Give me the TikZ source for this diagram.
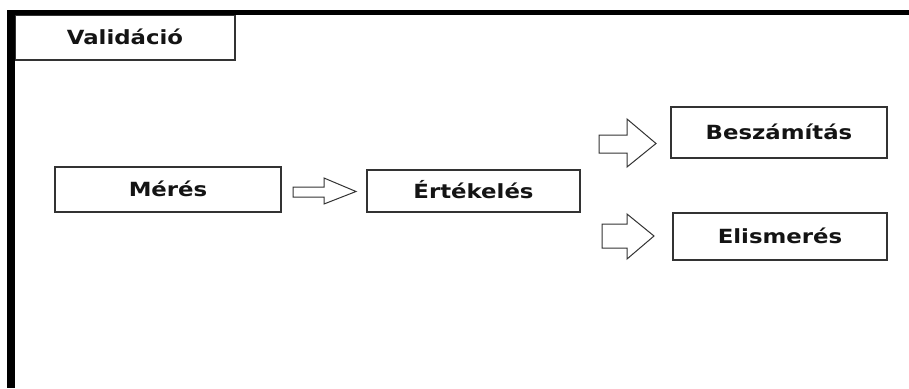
\documentclass[tikz,border=0pt]{standalone}
\usepackage{fontspec}
\newfontfamily\boxfont[FakeStretch=1.17]{DejaVu Sans Bold}
\definecolor{boxline}{HTML}{333333}
\definecolor{txt}{HTML}{141414}
\begin{document}
\begin{tikzpicture}[x=1pt,y=-1pt,
  box/.style={draw=boxline,line width=1.3pt,rectangle,inner sep=0pt,
    text height=14pt,text depth=0pt,font=\boxfont\fontsize{19.5}{22}\selectfont,text=txt},
  blockarrow/.style={draw=boxline,line width=1pt,fill=white,line join=miter},
  frame/.style={fill=black,draw=none}]
\useasboundingbox (0,0) rectangle (909,388);
\fill[white] (0,0) rectangle (909,388);
% boxes
\node[box,minimum width=220pt,minimum height=45pt] (val) at (125,37.5) {Validáció};
\node[box,minimum width=226pt,minimum height=45pt] (meres) at (168,189.5) {Mérés};
\node[box,minimum width=213pt,minimum height=42pt] (ert) at (473.5,191) {Értékelés};
\node[box,minimum width=216pt,minimum height=51pt] (besz) at (779,132.5) {Beszámítás};
\node[box,minimum width=214pt,minimum height=47pt] (elis) at (780,236.5) {Elismerés};
% frame
\path[frame] (7,10) rectangle (15,388);
\path[frame] (7,10) rectangle (909,15);
% block arrows
\draw[blockarrow] (293,187) -- (324,187) -- (324,178) -- (356,191.5) -- (324,204) -- (324,197) -- (293,197) -- cycle;
\draw[blockarrow] (599,135) -- (627,135) -- (627,119) -- (656,143.5) -- (627,167) -- (627,153) -- (599,153) -- cycle;
\draw[blockarrow] (602,224) -- (627,224) -- (627,214) -- (654,236) -- (627,259) -- (627,248) -- (602,248) -- cycle;
\end{tikzpicture}
\end{document}
